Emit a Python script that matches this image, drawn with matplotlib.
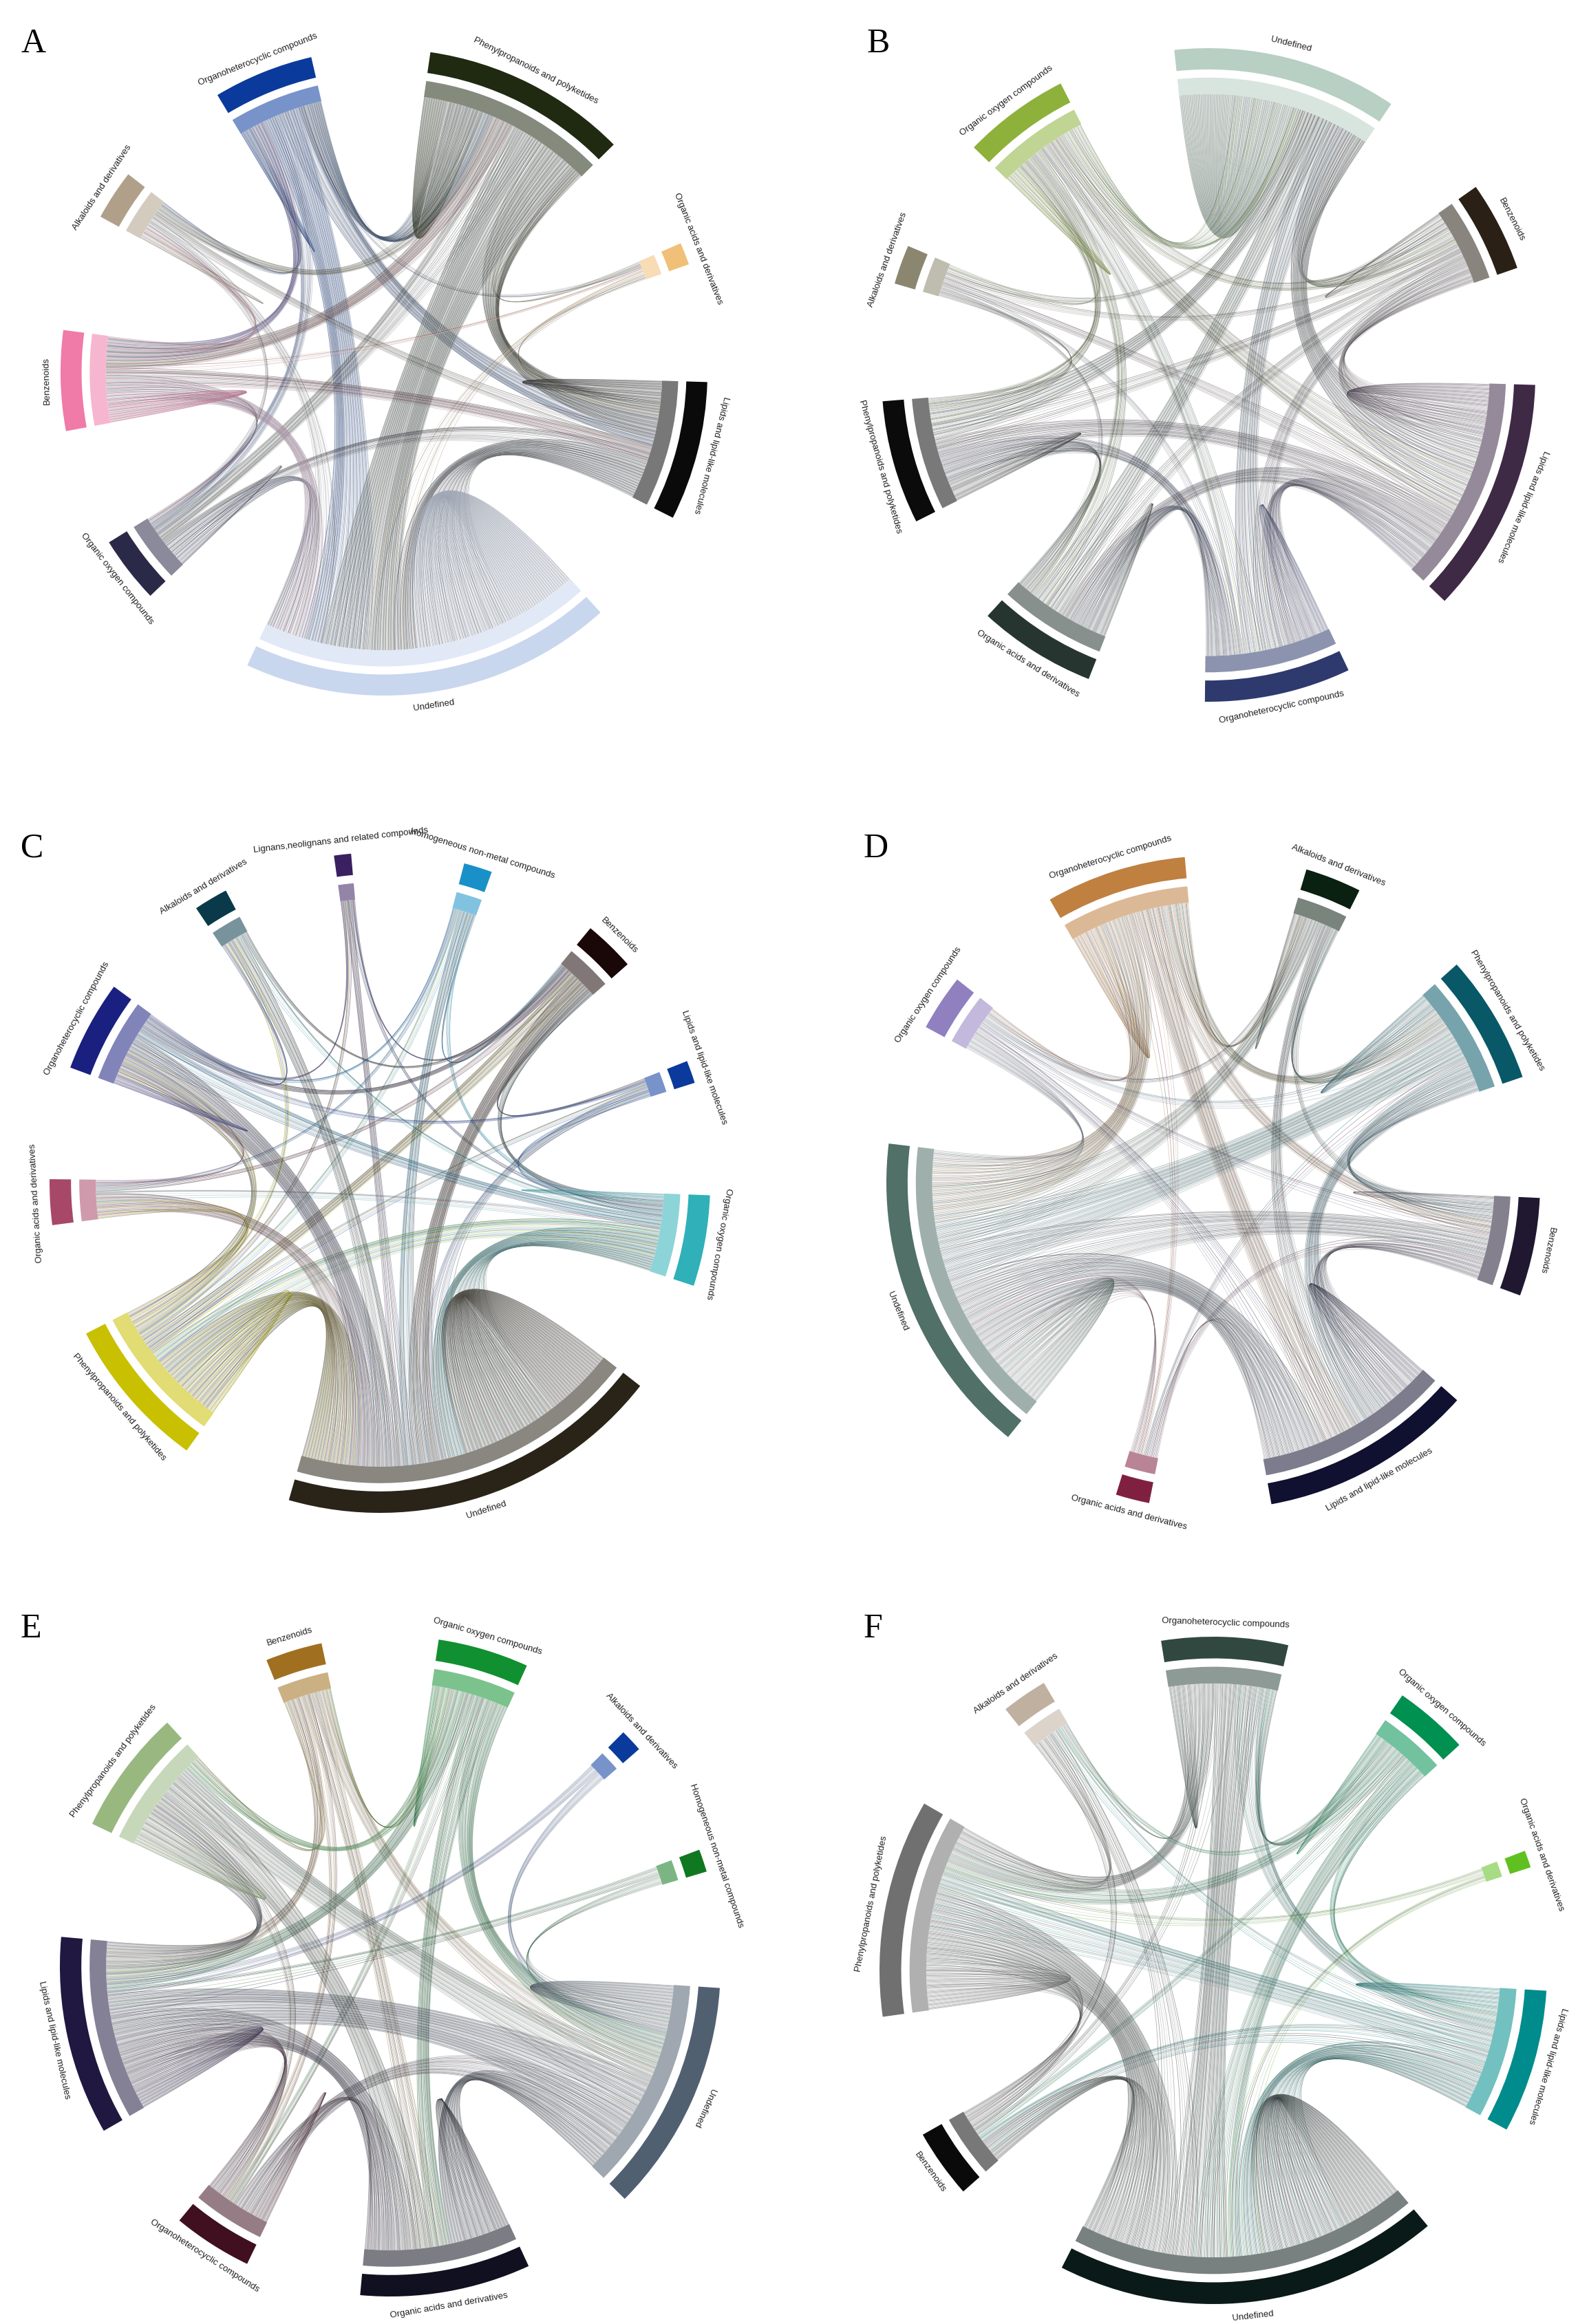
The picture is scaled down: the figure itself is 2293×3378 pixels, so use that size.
import numpy as np
import matplotlib
matplotlib.use('Agg')
import matplotlib.pyplot as plt
from matplotlib.collections import LineCollection
from matplotlib.patches import Wedge
from matplotlib.colors import to_rgb

OH = 'Organoheterocyclic compounds'
PP = 'Phenylpropanoids and polyketides'
OA = 'Organic acids and derivatives'
LL = 'Lipids and lipid-like molecules'
UN = 'Undefined'
OO = 'Organic oxygen compounds'
BZ = 'Benzenoids'
AK = 'Alkaloids and derivatives'
LG = 'Lignans,neolignans and related compounds'
HM = 'Homogeneous non-metal compounds'

# ---- panel A ----
a_cats = [OH, PP, OA, LL, UN, OO, BZ, AK]
a_sizes = [18, 37, 4, 25, 67, 12, 18, 9]
a_colors = ['#0a3a9c', '#1f2a10', '#f0c078', '#0a0a0a', '#c8d6ee', '#2a2a48', '#f07aa8', '#b0a08a']
a_links = [[2, 8, 1, 6, 14, 3, 5, 2],
           [8, 10, 1, 10, 22, 4, 6, 3],
           [1, 1, 0, 1, 2, 0, 1, 0],
           [6, 10, 1, 4, 14, 3, 4, 2],
           [14, 22, 2, 14, 30, 6, 8, 3],
           [3, 4, 0, 3, 6, 1, 2, 1],
           [5, 6, 1, 4, 8, 2, 4, 2],
           [2, 3, 0, 2, 3, 1, 2, 1]]

# ---- panel B ----
b_cats = [UN, BZ, LL, OH, OA, PP, AK, OO]
b_sizes = [40, 16, 42, 26, 21, 22, 7, 19]
b_colors = ['#b8cfc3', '#2a2016', '#3e2a45', '#2e3a6e', '#263530', '#0b0b0b', '#8a8670', '#8db13a']
b_links = [[30, 5, 12, 8, 7, 7, 2, 6],
           [5, 1, 4, 3, 2, 2, 1, 2],
           [12, 4, 6, 6, 5, 5, 2, 5],
           [8, 3, 6, 3, 4, 4, 1, 3],
           [7, 2, 5, 4, 2, 3, 1, 3],
           [7, 2, 5, 4, 3, 2, 1, 3],
           [2, 1, 2, 1, 1, 1, 0, 1],
           [6, 2, 5, 3, 3, 3, 1, 2]]

# ---- panel C ----
c_cats = [LG, HM, BZ, LL, OO, UN, PP, OA, OH, AK]
c_sizes = [3, 5, 9, 4, 16, 68, 27, 8, 16, 6]
c_colors = ['#3a2060', '#1a90c8', '#1a0808', '#0a3a9c', '#30b0b8', '#2a2418', '#c8c000', '#a84868', '#1a2080', '#0a3a4a']
c_links = [[0, 0, 1, 0, 1, 2, 1, 0, 1, 0],
           [0, 0, 1, 0, 1, 3, 1, 1, 1, 0],
           [1, 1, 0, 1, 2, 6, 3, 1, 2, 1],
           [0, 0, 1, 0, 1, 2, 1, 0, 1, 0],
           [1, 1, 2, 1, 1, 10, 4, 1, 3, 1],
           [2, 3, 6, 2, 10, 20, 12, 4, 8, 3],
           [1, 1, 3, 1, 4, 12, 2, 2, 3, 1],
           [0, 1, 1, 0, 1, 4, 2, 0, 1, 0],
           [1, 1, 2, 1, 3, 8, 3, 1, 1, 1],
           [0, 0, 1, 0, 1, 3, 1, 0, 1, 0]]

# ---- panel D ----
d_cats = [OH, AK, PP, BZ, LL, OA, UN, OO]
d_sizes = [25, 10, 23, 17.5, 38, 6, 58, 10]
d_colors = ['#c08040', '#0a2010', '#085868', '#201830', '#101030', '#802040', '#507068', '#9080c0']
d_links = [[3, 2, 4, 3, 6, 1, 9, 2],
           [2, 1, 2, 1, 3, 0, 4, 1],
           [4, 2, 2, 3, 5, 1, 8, 1],
           [3, 1, 3, 1, 4, 1, 6, 1],
           [6, 3, 5, 4, 4, 1, 12, 2],
           [1, 0, 1, 1, 1, 0, 2, 0],
           [9, 4, 8, 6, 12, 2, 6, 3],
           [2, 1, 1, 1, 2, 0, 3, 0]]

# ---- panel E ----
e_cats = [BZ, OO, AK, HM, UN, OA, OH, LL, PP]
e_sizes = [10, 16, 4, 4, 41, 30, 14, 35, 22]
e_colors = ['#a07020', '#109030', '#0a3a9c', '#107820', '#506070', '#101020', '#401020', '#201840', '#98b880']
e_links = [[0, 1, 0, 0, 2, 2, 1, 2, 1],
           [1, 1, 0, 0, 4, 3, 1, 3, 2],
           [0, 0, 0, 0, 1, 0, 0, 1, 0],
           [0, 0, 0, 0, 1, 0, 0, 1, 0],
           [2, 4, 1, 1, 4, 6, 3, 8, 5],
           [2, 3, 0, 0, 6, 3, 2, 6, 4],
           [1, 1, 0, 0, 3, 2, 1, 3, 1],
           [2, 3, 1, 1, 8, 6, 3, 3, 4],
           [1, 2, 0, 0, 5, 4, 1, 4, 2]]

# ---- panel F ----
f_cats = [OH, OO, OA, LL, UN, BZ, PP, AK]
f_sizes = [22, 13, 3, 25, 67, 12, 38, 8]
f_colors = ['#304840', '#009050', '#60c020', '#008c8c', '#0a1a18', '#0a0a0a', '#707070', '#c0b0a0']
f_links = [[2, 2, 0, 3, 8, 1, 5, 1],
           [2, 1, 0, 2, 4, 1, 3, 1],
           [0, 0, 0, 0, 1, 0, 1, 0],
           [3, 2, 0, 2, 8, 2, 5, 1],
           [8, 4, 1, 8, 12, 4, 12, 2],
           [1, 1, 0, 2, 4, 0, 3, 1],
           [5, 3, 1, 5, 12, 3, 4, 2],
           [1, 1, 0, 1, 2, 1, 2, 0]]

# panel layout: letter, data, start angle of first sector, centre (px), radius (px), lines per unit
panels = [
    ('A', a_cats, a_sizes, a_colors, a_links, 121, (558, 541), 470, 5),
    ('B', b_cats, b_sizes, b_colors, b_links, 96, (1756, 545), 475, 5),
    ('C', c_cats, c_sizes, c_colors, c_links, 98, (552, 1719), 480, 6),
    ('D', d_cats, d_sizes, d_colors, d_links, 120, (1763, 1719), 475, 5),
    ('E', e_cats, e_sizes, e_colors, e_links, 112, (567, 2858), 480, 8),
    ('F', f_cats, f_sizes, f_colors, f_links, 99, (1763, 2864), 485, 6),
]

W, H = 2293, 3378
R_IN = 0.86
EXT = 1.45
MIX = 2.2   # how far each partner's lines spread over neighbouring groups


def lighten(c, f):
    r = np.array(to_rgb(c))
    return tuple(r + (1 - r) * f)


def pol(a_deg, r=R_IN):
    a = np.deg2rad(a_deg)
    return np.array([r * np.cos(a), r * np.sin(a)])


def bez(p0, p2, n=40):
    t = np.linspace(0, 1, n)[:, None]
    return (1 - t) ** 2 * p0 + t ** 2 * p2


def draw_panel(fig, letter, cats, sizes, colors, links, start, centre, rpx, mult):
    cx, cy = centre
    half = EXT * rpx
    ax = fig.add_axes([(cx - half) / W, 1 - (cy + half) / H, 2 * half / W, 2 * half / H])
    ax.set_xlim(-EXT, EXT)
    ax.set_ylim(-EXT, EXT)
    ax.set_aspect('equal')
    ax.axis('off')

    n = len(cats)
    gap = (360 - sum(sizes)) / n
    spans = []
    cur = start
    for s in sizes:
        spans.append((cur, cur - s))
        cur = cur - s - gap

    # rank of partner j as seen from sector i (walking anticlockwise from i)
    def rank(i, j):
        return (i - j) % n

    ends = {i: [] for i in range(n)}
    pairs = []
    for i in range(n):
        for j in range(i, n):
            m = links[i][j] * mult
            for k in range(m):
                pid = len(pairs)
                pairs.append((i, j, k))
                f = (k + 0.5) / m
                if i == j:
                    ends[i].append((0.0 + MIX * f * 0.5, pid, 0))
                    ends[i].append((MIX * 0.5 + MIX * (1 - f) * 0.5, pid, 1))
                else:
                    ends[i].append((rank(i, j) + MIX * f, pid, 0))
                    ends[j].append((rank(j, i) + MIX * (1 - f), pid, 1))
    pos = {}
    for i in range(n):
        a0, a1 = spans[i]
        lst = sorted(ends[i])
        angs = np.linspace(a0, a1, len(lst) + 2)[1:-1]
        for ang, e in zip(angs, lst):
            pos[(e[1], e[2])] = ang

    lines, lcols = [], []
    for pid, (i, j, k) in enumerate(pairs):
        lines.append(bez(pol(pos[(pid, 0)]), pol(pos[(pid, 1)])))
        c = [colors[i], '#3a3a3a', colors[j], lighten(colors[i], 0.4), '#8a8a8a'][k % 5]
        lcols.append(c)
    lc = LineCollection(lines, colors=lcols, linewidths=0.55, alpha=0.42, zorder=2)
    ax.add_collection(lc)

    for i in range(n):
        a0, a1 = spans[i]
        ax.add_patch(Wedge((0, 0), 0.91, a1, a0, width=0.05, fc=lighten(colors[i], 0.45), ec='none', zorder=3))
        ax.add_patch(Wedge((0, 0), 1.0, a1, a0, width=0.065, fc=colors[i], ec='none', zorder=3))
        mid = (a0 + a1) / 2
        m180 = (mid + 180) % 360 - 180
        flip = -175 < m180 < -30
        rot = mid + 90 if flip else mid - 90
        x, y = pol(mid, 1.03)
        ax.text(x, y, cats[i], rotation=rot, rotation_mode='anchor', ha='center',
                va='top' if flip else 'bottom', fontsize=9.5, family='Liberation Sans', color='#222222')


fig = plt.figure(figsize=(W / 100, H / 100), dpi=100)
letter_pos = {'A': (30, 40), 'B': (1260, 40), 'C': (30, 1210), 'D': (1255, 1210), 'E': (30, 2345), 'F': (1255, 2345)}
for p in panels:
    draw_panel(fig, *p)
    lx, ly = letter_pos[p[0]]
    fig.text(lx / W, 1 - ly / H, p[0], fontsize=36, family='Liberation Serif', va='top', ha='left')

fig.savefig('out.png', dpi=100, facecolor='white')
